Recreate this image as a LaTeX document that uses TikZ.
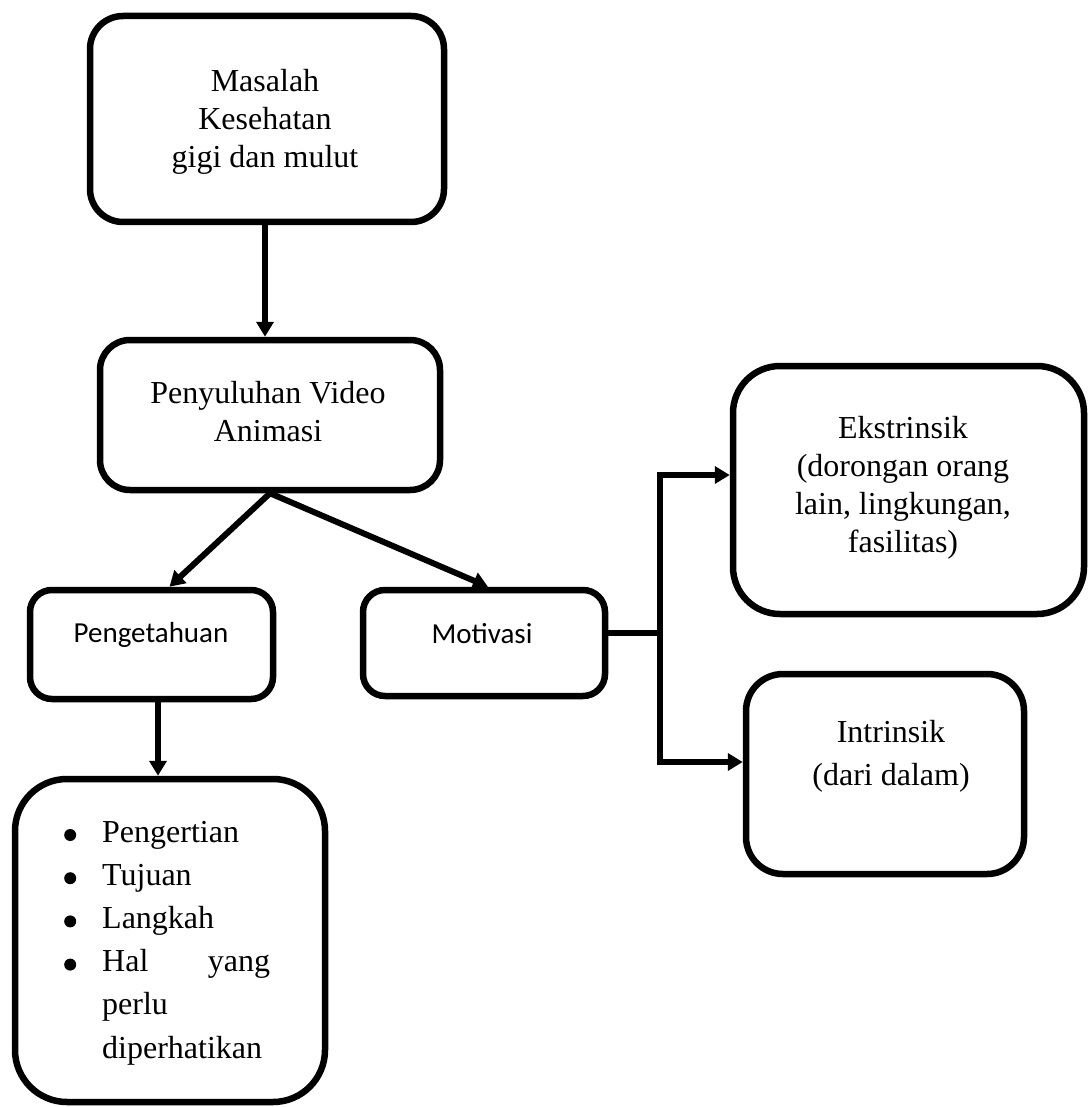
\documentclass[tikz,border=0pt]{standalone}
\usepackage{fontspec}
\setmainfont{Liberation Serif}
\newfontfamily\calib{Carlito}
\usetikzlibrary{arrows.meta}
\newcommand{\bigdot}{\tikz[baseline=-7pt]\fill (0,0) circle (6pt);}
\begin{document}
\begin{tikzpicture}[x=1pt,y=-1pt,
  box/.style={draw, line width=6.5pt, rounded corners=#1, inner sep=0pt},
  conn/.style={line width=6pt, -{Triangle[width=17pt,length=15pt]}},
  elb/.style={line width=5.5pt},
  elbarr/.style={line width=5.5pt, line join=miter, -{Triangle[width=17pt,length=15pt]}},
  txt/.style={anchor=base, inner sep=0pt, font=\fontsize{32}{38}\selectfont},
  ctxt/.style={anchor=base, inner sep=0pt, font=\calib\fontsize{29}{35}\selectfont}]
\fill[white] (0,0) rectangle (1088,1107);
\useasboundingbox (0,0) rectangle (1088,1107);
% boxes
\node[box=33pt, minimum width=354pt, minimum height=206pt] (b1) at (267,119) {};
\node[box=30pt, minimum width=340pt, minimum height=150pt] (b2) at (270,415) {};
\node[box=22pt, minimum width=243pt, minimum height=109pt] (peng) at (151.5,644.5) {};
\node[box=22pt, minimum width=242pt, minimum height=106pt] (moti) at (484,643) {};
\node[box=52pt, minimum width=310pt, minimum height=323pt] (list) at (170,940.5) {};
\node[box=47pt, minimum width=351pt, minimum height=248pt] (ekst) at (908.5,490) {};
\node[box=37pt, minimum width=278pt, minimum height=200pt] (intr) at (885,774) {};
% texts
\node[txt] (t1) at (265,92) {\parbox[t]{340pt}{\centering Masalah\\Kesehatan\\gigi dan mulut}};
\node[txt] (t2) at (268,403) {\parbox[t]{330pt}{\centering Penyuluhan Video\\Animasi}};
\node[ctxt] (t3) at (151,642) {Pengetahuan};
\node[ctxt] (t4) at (482,643) {Motivasi};
\node[txt] (t5) at (903,438) {\parbox[t]{340pt}{\centering Ekstrinsik\\(dorongan orang\\lain, lingkungan,\\fasilitas)}};
\node[txt, font=\fontsize{32}{43}\selectfont] (t6) at (891,742) {\parbox[t]{270pt}{\centering Intrinsik\\(dari dalam)}};
\node[anchor=base west, inner sep=0pt, font=\fontsize{32}{43.2}\selectfont] (t7) at (64,842)
  {\begin{tabular}[t]{@{}l@{\hspace{26pt}}l@{}}
   \bigdot & Pengertian\\
   \bigdot & Tujuan\\
   \bigdot & Langkah\\
   \bigdot & \hbox to 168pt{Hal\hfill yang}\\
   & perlu\\
   & diperhatikan
   \end{tabular}};
% connectors
\draw[conn] ([xshift=-2pt]b1.south) -- ([xshift=-2pt]b1.south |- b2.north);
\draw[conn] (b2.south) -- ([xshift=18pt]peng.north);
\draw[conn] (b2.south) -- ([xshift=4pt]moti.north);
\draw[conn] ([xshift=6.5pt]peng.south) -- ([xshift=6.5pt]peng.south |- list.north);
\coordinate (jn) at (660,633);
\draw[elb] (moti.east |- jn) -- (jn);
\draw[elbarr] (jn) |- ([yshift=15pt]ekst.west);
\draw[elbarr] (jn) |- ([yshift=12pt]intr.west);
\end{tikzpicture}
\end{document}
